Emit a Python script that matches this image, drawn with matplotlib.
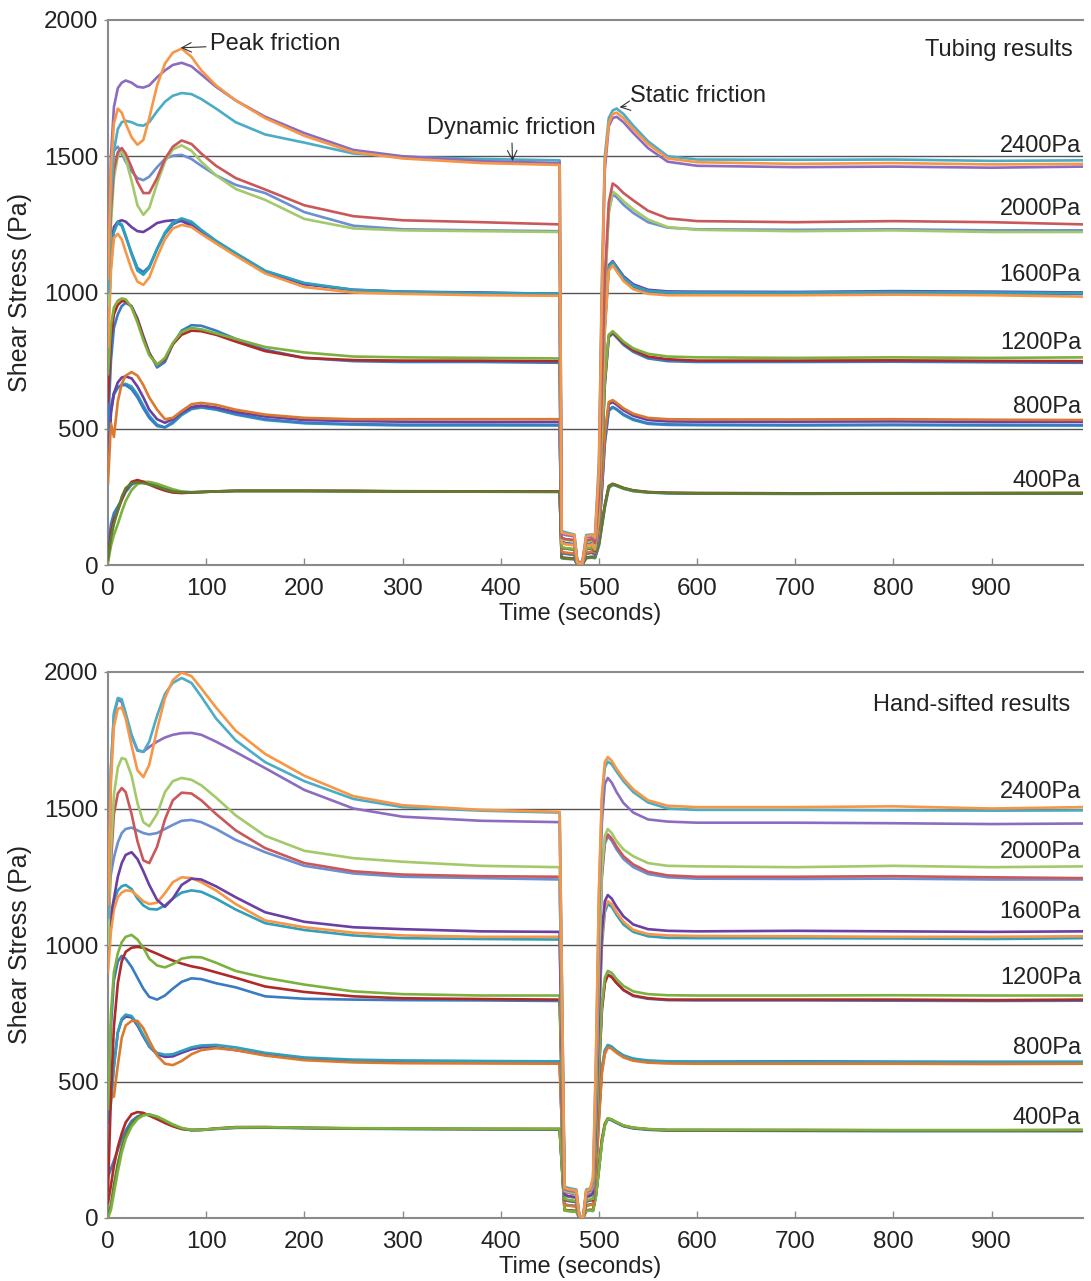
import matplotlib
matplotlib.use("Agg")
import matplotlib.pyplot as plt

plt.rcParams['font.family'] = ['Liberation Sans', 'DejaVu Sans']

# time grid (s): loading, unloading gap, reloading
TUB_T = [0, 3, 6, 10, 14, 18, 24, 30, 36, 42, 50, 58, 66, 75, 85, 95, 110, 130, 160, 200, 250, 300, 380, 460,
         462, 466, 475, 478, 483, 487, 493,
         496, 500, 503, 506, 510, 514, 518, 525, 535, 550, 570, 600, 700, 800, 900, 993]
HS_T = [0, 3, 6, 10, 14, 18, 24, 30, 36, 42, 50, 58, 66, 75, 85, 95, 110, 130, 160, 200, 250, 300, 380, 460,
        465, 469, 477, 480, 484, 487, 491,
        494, 497, 500, 503, 506, 509, 513, 518, 525, 535, 550, 570, 600, 700, 800, 900, 993]

# ---- Tubing results (Pa) ----
TUB_2400_ORANGE = [1050, 1450, 1620, 1675, 1660, 1620, 1570, 1542, 1560, 1640, 1760, 1840, 1880, 1895, 1865, 1815, 1760, 1705, 1640, 1575, 1515, 1492, 1475, 1468,
                   120, 115, 110, 10, 5, 105, 110,
                   100, 350, 1000, 1480, 1620, 1655, 1660, 1640, 1600, 1545, 1492, 1478, 1472, 1475, 1470, 1472]
TUB_2400_PURPLE = [1050, 1500, 1680, 1750, 1770, 1778, 1770, 1755, 1752, 1760, 1790, 1815, 1835, 1843, 1830, 1800, 1755, 1705, 1645, 1585, 1523, 1500, 1482, 1475,
                   115, 110, 105, 12, 6, 100, 105,
                   95, 330, 960, 1450, 1610, 1640, 1645, 1625, 1585, 1530, 1480, 1465, 1460, 1462, 1458, 1462]
TUB_2400_CYAN = [1000, 1350, 1520, 1600, 1625, 1630, 1625, 1615, 1612, 1625, 1665, 1700, 1722, 1732, 1728, 1710, 1675, 1625, 1580, 1550, 1510, 1498, 1490, 1485,
                 125, 120, 112, 15, 8, 110, 112,
                 110, 380, 1050, 1500, 1640, 1668, 1675, 1655, 1612, 1555, 1500, 1488, 1487, 1488, 1483, 1485]
TUB_2000_RED = [1000, 1300, 1450, 1515, 1530, 1510, 1460, 1405, 1365, 1365, 1420, 1490, 1535, 1558, 1545, 1510, 1465, 1420, 1378, 1320, 1280, 1265, 1258, 1250,
                100, 95, 92, 10, 5, 90, 95,
                80, 250, 650, 1050, 1330, 1400, 1390, 1365, 1338, 1300, 1272, 1262, 1258, 1262, 1258, 1250]
TUB_2000_GREEN = [950, 1250, 1420, 1500, 1520, 1490, 1410, 1320, 1285, 1310, 1400, 1480, 1525, 1540, 1520, 1480, 1430, 1380, 1340, 1270, 1235, 1228, 1225, 1222,
                  95, 92, 88, 8, 5, 85, 90,
                  75, 230, 600, 1000, 1290, 1370, 1360, 1335, 1305, 1268, 1240, 1230, 1225, 1228, 1222, 1222]
TUB_2000_BLUE = [1050, 1400, 1520, 1535, 1510, 1480, 1445, 1420, 1412, 1425, 1460, 1490, 1502, 1505, 1490, 1465, 1430, 1395, 1365, 1295, 1245, 1232, 1228, 1225,
                 98, 94, 90, 9, 5, 88, 92,
                 78, 240, 620, 1020, 1300, 1360, 1350, 1322, 1292, 1258, 1238, 1232, 1230, 1232, 1228, 1228]
TUB_1600_PURPLE = [900, 1150, 1240, 1260, 1265, 1260, 1240, 1225, 1222, 1235, 1255, 1262, 1265, 1262, 1245, 1220, 1185, 1140, 1075, 1030, 1010, 1003, 1000, 995,
                   85, 80, 76, 8, 4, 75, 80,
                   70, 200, 550, 900, 1100, 1115, 1095, 1060, 1030, 1010, 1004, 1003, 1002, 1005, 1003, 1000]
TUB_1600_CYAN = [850, 1100, 1220, 1258, 1250, 1210, 1140, 1080, 1065, 1090, 1160, 1220, 1258, 1272, 1260, 1230, 1190, 1145, 1080, 1035, 1010, 1003, 998, 996,
                 82, 78, 74, 8, 4, 72, 78,
                 65, 190, 530, 880, 1095, 1112, 1090, 1055, 1025, 1006, 1001, 1000, 1000, 1002, 1000, 998]
TUB_1600_ORANGE = [800, 1080, 1200, 1215, 1195, 1150, 1085, 1040, 1028, 1055, 1130, 1195, 1235, 1248, 1240, 1215, 1180, 1135, 1070, 1020, 1000, 995, 990, 988,
                   80, 76, 72, 7, 3, 70, 75,
                   60, 180, 500, 860, 1080, 1100, 1078, 1042, 1012, 995, 990, 990, 990, 992, 990, 985]
TUB_1600_BLUE = [870, 1120, 1230, 1255, 1245, 1205, 1145, 1090, 1075, 1095, 1160, 1215, 1250, 1265, 1255, 1225, 1188, 1142, 1078, 1033, 1008, 1002, 998, 995,
                 83, 79, 75, 8, 4, 74, 79,
                 62, 185, 515, 870, 1090, 1108, 1085, 1050, 1020, 1002, 998, 998, 998, 1000, 997, 995]
TUB_1200_GREEN = [700, 880, 945, 970, 978, 975, 945, 890, 825, 770, 735, 760, 815, 855, 870, 865, 850, 830, 800, 780, 765, 762, 760, 758,
                  65, 62, 58, 6, 3, 60, 65,
                  55, 160, 420, 680, 845, 858, 845, 820, 795, 775, 765, 762, 760, 762, 760, 762]
TUB_1200_BLUE = [500, 750, 870, 920, 950, 962, 950, 905, 840, 780, 725, 745, 810, 860, 880, 878, 860, 830, 790, 760, 748, 745, 745, 742,
                 62, 60, 56, 6, 3, 58, 62,
                 50, 150, 400, 660, 835, 850, 835, 808, 782, 758, 748, 745, 745, 746, 744, 742]
TUB_1200_RED = [600, 830, 920, 955, 968, 968, 948, 900, 835, 775, 735, 755, 810, 845, 860, 858, 845, 820, 785, 760, 752, 750, 750, 748,
                64, 61, 57, 6, 3, 59, 63,
                52, 155, 410, 670, 840, 855, 840, 814, 788, 765, 755, 750, 750, 751, 749, 748]
TUB_800_ORANGE = [300, 520, 470, 600, 665, 695, 708, 695, 660, 615, 570, 535, 540, 565, 590, 595, 588, 570, 552, 540, 535, 535, 535, 535,
                  48, 45, 42, 5, 2, 45, 50,
                  45, 120, 300, 480, 598, 605, 595, 575, 555, 540, 535, 534, 534, 535, 533, 532]
TUB_800_PURPLE = [350, 560, 630, 670, 688, 692, 685, 655, 615, 570, 535, 522, 535, 560, 580, 585, 578, 562, 545, 532, 528, 526, 525, 525,
                  46, 44, 40, 5, 2, 44, 48,
                  42, 115, 290, 470, 590, 598, 588, 568, 548, 532, 527, 526, 526, 527, 525, 525]
TUB_800_BLUE = [380, 580, 630, 652, 660, 660, 645, 615, 575, 540, 510, 505, 525, 555, 575, 580, 572, 555, 535, 522, 517, 515, 515, 514,
                44, 42, 38, 4, 2, 42, 46,
                40, 110, 275, 450, 570, 580, 572, 553, 535, 520, 516, 515, 514, 515, 514, 513]
TUB_800_CYAN = [360, 560, 625, 650, 662, 665, 655, 625, 585, 548, 515, 505, 520, 550, 572, 578, 570, 552, 532, 520, 515, 512, 512, 512,
                43, 41, 37, 4, 2, 41, 45,
                38, 105, 270, 445, 565, 578, 570, 550, 532, 518, 514, 513, 512, 513, 512, 512]
TUB_400_RED = [30, 120, 165, 200, 240, 275, 305, 312, 305, 295, 283, 273, 266, 264, 266, 268, 270, 272, 272, 272, 272, 270, 270, 270,
               28, 26, 24, 3, 1, 28, 30,
               30, 80, 150, 220, 290, 298, 293, 283, 274, 268, 265, 264, 263, 263, 264, 264]
TUB_400_GREEN = [10, 70, 110, 150, 195, 235, 275, 297, 305, 305, 298, 288, 278, 270, 266, 267, 270, 273, 273, 273, 272, 271, 270, 270,
                 26, 24, 22, 3, 1, 26, 28,
                 28, 75, 145, 215, 286, 296, 291, 281, 272, 267, 265, 264, 263, 264, 264, 265]
TUB_400_OLIVE = [20, 100, 150, 200, 250, 282, 300, 303, 300, 296, 288, 278, 270, 267, 267, 268, 270, 271, 271, 271, 270, 270, 269, 268,
                 27, 25, 23, 3, 1, 27, 29,
                 29, 78, 148, 218, 288, 297, 292, 282, 273, 267, 264, 263, 262, 263, 263, 263]
TUB_400_BLUE = [60, 150, 190, 215, 240, 268, 295, 305, 305, 300, 290, 280, 272, 268, 267, 268, 270, 272, 272, 272, 271, 270, 270, 269,
                25, 23, 21, 2, 1, 25, 27,
                25, 70, 140, 210, 282, 294, 290, 280, 271, 266, 263, 262, 261, 262, 262, 262]

# ---- Hand-sifted results (Pa) ----
HS_2400_ORANGE = [1150, 1600, 1800, 1865, 1870, 1830, 1730, 1640, 1615, 1660, 1790, 1905, 1970, 1998, 1985, 1940, 1870, 1785, 1700, 1620, 1545, 1512, 1495, 1488,
                  110, 105, 100, 8, 4, 100, 105,
                  150, 600, 1200, 1550, 1670, 1688, 1675, 1645, 1610, 1570, 1530, 1510, 1505, 1505, 1508, 1500, 1505]
HS_2400_CYAN = [1100, 1650, 1850, 1905, 1900, 1850, 1770, 1715, 1707, 1745, 1840, 1920, 1960, 1978, 1960, 1910, 1830, 1750, 1670, 1600, 1535, 1505, 1492, 1485,
                115, 110, 104, 9, 5, 104, 108,
                140, 580, 1180, 1530, 1650, 1672, 1662, 1635, 1600, 1560, 1522, 1500, 1495, 1495, 1493, 1492, 1493]
HS_2400_PURPLE = [1100, 1640, 1840, 1900, 1890, 1840, 1765, 1712, 1708, 1725, 1745, 1760, 1770, 1776, 1777, 1770, 1745, 1707, 1648, 1568, 1500, 1470, 1455, 1450,
                  105, 100, 96, 8, 4, 96, 100,
                  130, 520, 1100, 1450, 1590, 1612, 1595, 1560, 1520, 1485, 1460, 1452, 1448, 1448, 1446, 1443, 1445]
HS_2000_GREEN = [1000, 1350, 1550, 1650, 1685, 1680, 1620, 1520, 1450, 1435, 1480, 1560, 1600, 1612, 1605, 1585, 1540, 1475, 1400, 1345, 1318, 1305, 1290, 1285,
                 100, 95, 90, 7, 4, 92, 96,
                 120, 450, 950, 1280, 1400, 1425, 1410, 1380, 1350, 1325, 1300, 1290, 1288, 1285, 1290, 1285, 1288]
HS_2000_RED = [1000, 1300, 1480, 1555, 1575, 1560, 1480, 1380, 1310, 1300, 1360, 1460, 1530, 1558, 1555, 1530, 1480, 1420, 1355, 1300, 1270, 1258, 1252, 1250,
               98, 93, 88, 7, 4, 90, 94,
               115, 430, 920, 1260, 1380, 1405, 1390, 1360, 1325, 1295, 1268, 1255, 1250, 1250, 1252, 1248, 1245]
HS_2000_BLUE = [1200, 1260, 1320, 1375, 1410, 1425, 1430, 1420, 1410, 1405, 1410, 1425, 1440, 1455, 1458, 1450, 1425, 1385, 1340, 1290, 1262, 1250, 1245, 1240,
                96, 92, 86, 7, 4, 88, 92,
                110, 420, 900, 1250, 1370, 1398, 1382, 1350, 1315, 1285, 1260, 1248, 1243, 1242, 1243, 1240, 1240]
HS_1600_PURPLE = [1050, 1110, 1170, 1250, 1300, 1330, 1340, 1315, 1270, 1220, 1165, 1140, 1170, 1220, 1243, 1240, 1215, 1175, 1120, 1085, 1065, 1058, 1050, 1048,
                  85, 80, 76, 6, 3, 78, 82,
                  90, 350, 750, 1050, 1160, 1183, 1170, 1140, 1105, 1075, 1058, 1052, 1050, 1052, 1050, 1048, 1050]
HS_1600_TEAL = [950, 1080, 1160, 1200, 1215, 1220, 1205, 1170, 1145, 1132, 1130, 1145, 1170, 1192, 1200, 1195, 1170, 1130, 1080, 1055, 1035, 1025, 1022, 1020,
                82, 78, 74, 6, 3, 75, 80,
                85, 330, 700, 1000, 1120, 1150, 1140, 1110, 1075, 1048, 1032, 1026, 1025, 1025, 1024, 1022, 1025]
HS_1600_ORANGE = [900, 1050, 1130, 1175, 1192, 1200, 1198, 1180, 1160, 1150, 1155, 1190, 1230, 1248, 1245, 1230, 1200, 1150, 1090, 1065, 1045, 1035, 1030, 1030,
                  84, 79, 75, 6, 3, 76, 81,
                  88, 340, 720, 1020, 1135, 1160, 1150, 1120, 1085, 1055, 1040, 1035, 1033, 1032, 1030, 1030, 1032]
HS_1200_GREEN = [400, 750, 900, 970, 1010, 1030, 1037, 1020, 990, 950, 925, 918, 930, 950, 956, 955, 935, 905, 880, 855, 830, 820, 815, 815,
                 70, 66, 62, 5, 3, 64, 68,
                 70, 250, 550, 780, 880, 905, 898, 875, 850, 830, 820, 816, 815, 815, 816, 815, 815]
HS_1200_RED = [100, 450, 700, 860, 940, 975, 990, 993, 990, 980, 968, 955, 943, 932, 922, 915, 900, 880, 848, 828, 812, 805, 802, 800,
               68, 64, 60, 5, 3, 62, 66,
               65, 240, 530, 760, 860, 890, 882, 860, 835, 815, 805, 800, 800, 800, 800, 798, 800]
HS_1200_BLUE = [350, 700, 870, 940, 960, 950, 920, 880, 840, 810, 800, 815, 840, 865, 878, 875, 860, 845, 812, 803, 800, 798, 797, 795,
                66, 62, 58, 5, 3, 60, 64,
                68, 245, 540, 770, 865, 892, 885, 862, 835, 813, 803, 798, 797, 797, 796, 795, 796]
HS_800_TEAL = [350, 420, 550, 680, 730, 745, 740, 710, 670, 630, 605, 598, 600, 612, 625, 632, 634, 625, 605, 588, 580, 577, 575, 574,
               50, 47, 44, 4, 2, 46, 50,
               50, 170, 380, 550, 615, 634, 628, 612, 596, 584, 577, 574, 573, 573, 572, 572, 572]
HS_800_ORANGE = [440, 440, 445, 560, 660, 705, 722, 722, 695, 650, 595, 565, 560, 575, 600, 615, 622, 615, 595, 578, 570, 567, 566, 565,
                 48, 45, 42, 4, 2, 44, 48,
                 48, 160, 360, 530, 600, 625, 620, 605, 588, 576, 569, 566, 565, 565, 565, 564, 565]
HS_800_PURPLE = [360, 440, 560, 680, 725, 738, 735, 705, 665, 628, 600, 590, 592, 605, 618, 625, 625, 615, 598, 583, 577, 575, 574, 573,
                 49, 46, 43, 4, 2, 45, 49,
                 49, 165, 370, 540, 608, 630, 625, 610, 593, 582, 575, 572, 572, 574, 572, 571, 571]
HS_400_RED = [55, 120, 190, 260, 310, 350, 380, 388, 385, 375, 362, 348, 336, 326, 322, 323, 328, 333, 333, 330, 328, 327, 326, 326,
              30, 28, 26, 2, 1, 28, 30,
              30, 90, 190, 290, 345, 365, 360, 350, 338, 330, 325, 322, 322, 321, 321, 320, 320]
HS_400_BLUE = [150, 180, 210, 250, 290, 320, 355, 372, 380, 378, 368, 352, 338, 327, 322, 322, 326, 330, 331, 329, 327, 326, 325, 324,
               28, 26, 24, 2, 1, 26, 28,
               28, 85, 180, 280, 340, 362, 358, 348, 336, 328, 323, 320, 320, 319, 318, 318, 318]
HS_400_GREEN = [0, 30, 90, 170, 240, 290, 335, 362, 376, 380, 372, 358, 343, 330, 323, 323, 327, 332, 333, 331, 329, 328, 327, 327,
                27, 25, 23, 2, 1, 25, 27,
                25, 80, 175, 275, 338, 365, 361, 351, 339, 331, 326, 323, 323, 323, 322, 322, 323]
HS_400_OLIVE = [0, 50, 120, 200, 260, 305, 345, 368, 378, 378, 370, 355, 340, 328, 322, 323, 327, 331, 332, 330, 328, 327, 326, 325,
                29, 27, 25, 2, 1, 27, 29,
                27, 82, 178, 278, 340, 364, 360, 350, 338, 330, 325, 322, 322, 322, 321, 321, 322]

LOAD_LABELS = ['2400Pa', '2000Pa', '1600Pa', '1200Pa', '800Pa', '400Pa']
TUB_LABEL_Y = [1538, 1306, 1064, 815, 580, 308]
HS_LABEL_Y = [1560, 1341, 1121, 879, 623, 366]

ORANGE = '#F79646'
PURPLE = '#8C6CC0'
CYAN = '#4BACC6'
RED = '#C9585A'
LGREEN = '#A3C96A'
LBLUE = '#6C8ED2'
DPURPLE = '#6B3FA3'
TEAL = '#2FA0BC'
DORANGE = '#DB7A2E'
SBLUE = '#3A7CC4'
DRED = '#B02A2A'
GREEN = '#7DB13F'
OLIVE = '#5E7D30'

tub_curves = [
    (TUB_400_BLUE, SBLUE), (TUB_400_GREEN, GREEN), (TUB_400_RED, DRED), (TUB_400_OLIVE, OLIVE),
    (TUB_800_CYAN, TEAL), (TUB_800_BLUE, SBLUE), (TUB_800_PURPLE, DPURPLE), (TUB_800_ORANGE, DORANGE),
    (TUB_1200_BLUE, SBLUE), (TUB_1200_RED, DRED), (TUB_1200_GREEN, GREEN),
    (TUB_1600_BLUE, SBLUE), (TUB_1600_PURPLE, DPURPLE), (TUB_1600_CYAN, TEAL), (TUB_1600_ORANGE, ORANGE),
    (TUB_2000_BLUE, LBLUE), (TUB_2000_GREEN, LGREEN), (TUB_2000_RED, RED),
    (TUB_2400_CYAN, CYAN), (TUB_2400_PURPLE, PURPLE), (TUB_2400_ORANGE, ORANGE),
]
hs_curves = [
    (HS_400_BLUE, SBLUE), (HS_400_RED, DRED), (HS_400_OLIVE, OLIVE), (HS_400_GREEN, GREEN),
    (HS_800_PURPLE, DPURPLE), (HS_800_TEAL, TEAL), (HS_800_ORANGE, DORANGE),
    (HS_1200_BLUE, SBLUE), (HS_1200_RED, DRED), (HS_1200_GREEN, GREEN),
    (HS_1600_TEAL, TEAL), (HS_1600_ORANGE, ORANGE), (HS_1600_PURPLE, DPURPLE),
    (HS_2000_BLUE, LBLUE), (HS_2000_RED, RED), (HS_2000_GREEN, LGREEN),
    (HS_2400_PURPLE, PURPLE), (HS_2400_CYAN, CYAN), (HS_2400_ORANGE, ORANGE),
]

FS = 17
TXT = '#222222'

fig = plt.figure(figsize=(10.91, 12.81), dpi=100)
ax1 = fig.add_axes([108 / 1091, 1 - 565 / 1281, 975 / 1091, 545 / 1281])
ax2 = fig.add_axes([108 / 1091, 1 - 1218 / 1281, 975 / 1091, 546 / 1281])


def style_panel(ax, times, curves, label_y, title):
    for vals, col in curves:
        ax.plot(times, vals, color=col, lw=1.9, solid_joinstyle='round', zorder=3)
    for g in [500, 1000, 1500]:
        ax.axhline(g, color='#555555', lw=1.0, zorder=2)
    ax.set_xlim(0, 993)
    ax.set_ylim(0, 2000)
    ax.set_xticks(range(0, 1000, 100))
    ax.set_yticks([0, 500, 1000, 1500, 2000])
    for s in ['left', 'bottom', 'top']:
        ax.spines[s].set_color('#8a8a8a')
        ax.spines[s].set_linewidth(1.5)
    ax.spines['right'].set_visible(False)
    ax.tick_params(axis='x', direction='in', length=5, width=1, color='#8a8a8a',
                   labelsize=FS + 0.5, labelcolor=TXT, pad=9)
    ax.tick_params(axis='y', direction='out', length=3, width=1, color='#8a8a8a',
                   labelsize=FS + 0.5, labelcolor=TXT, pad=4)
    ax.set_ylabel('Shear Stress (Pa)', fontsize=FS + 1, color=TXT)
    ax.yaxis.set_label_coords(-0.078, 0.5)
    ax.set_xlabel('Time (seconds)', fontsize=FS, color=TXT)
    ax.xaxis.set_label_coords(0.484, -0.07)
    for lab, y in zip(LOAD_LABELS, label_y):
        ax.text(991, y, lab, fontsize=FS, color=TXT, ha='right', va='center', zorder=5)
    ax.text(title[1], title[2], title[0], fontsize=FS, color=TXT, ha='right', va='center')


style_panel(ax1, TUB_T, tub_curves, TUB_LABEL_Y, ('Tubing results', 983, 1890))
style_panel(ax2, HS_T, hs_curves, HS_LABEL_Y, ('Hand-sifted results', 980, 1879))

arrow = dict(arrowstyle='->', color='#333333', lw=0.8, shrinkA=1, shrinkB=0)
ax1.annotate('Peak friction', xy=(74, 1898), xytext=(104, 1912), fontsize=FS, color=TXT,
             ha='left', va='center', arrowprops=arrow)
ax1.annotate('Dynamic friction', xy=(412, 1482), xytext=(411, 1604), fontsize=FS, color=TXT,
             ha='center', va='center', arrowprops=arrow)
ax1.annotate('Static friction', xy=(521, 1680), xytext=(532, 1721), fontsize=FS, color=TXT,
             ha='left', va='center', arrowprops=arrow)

fig.savefig('out.png', dpi=100)
